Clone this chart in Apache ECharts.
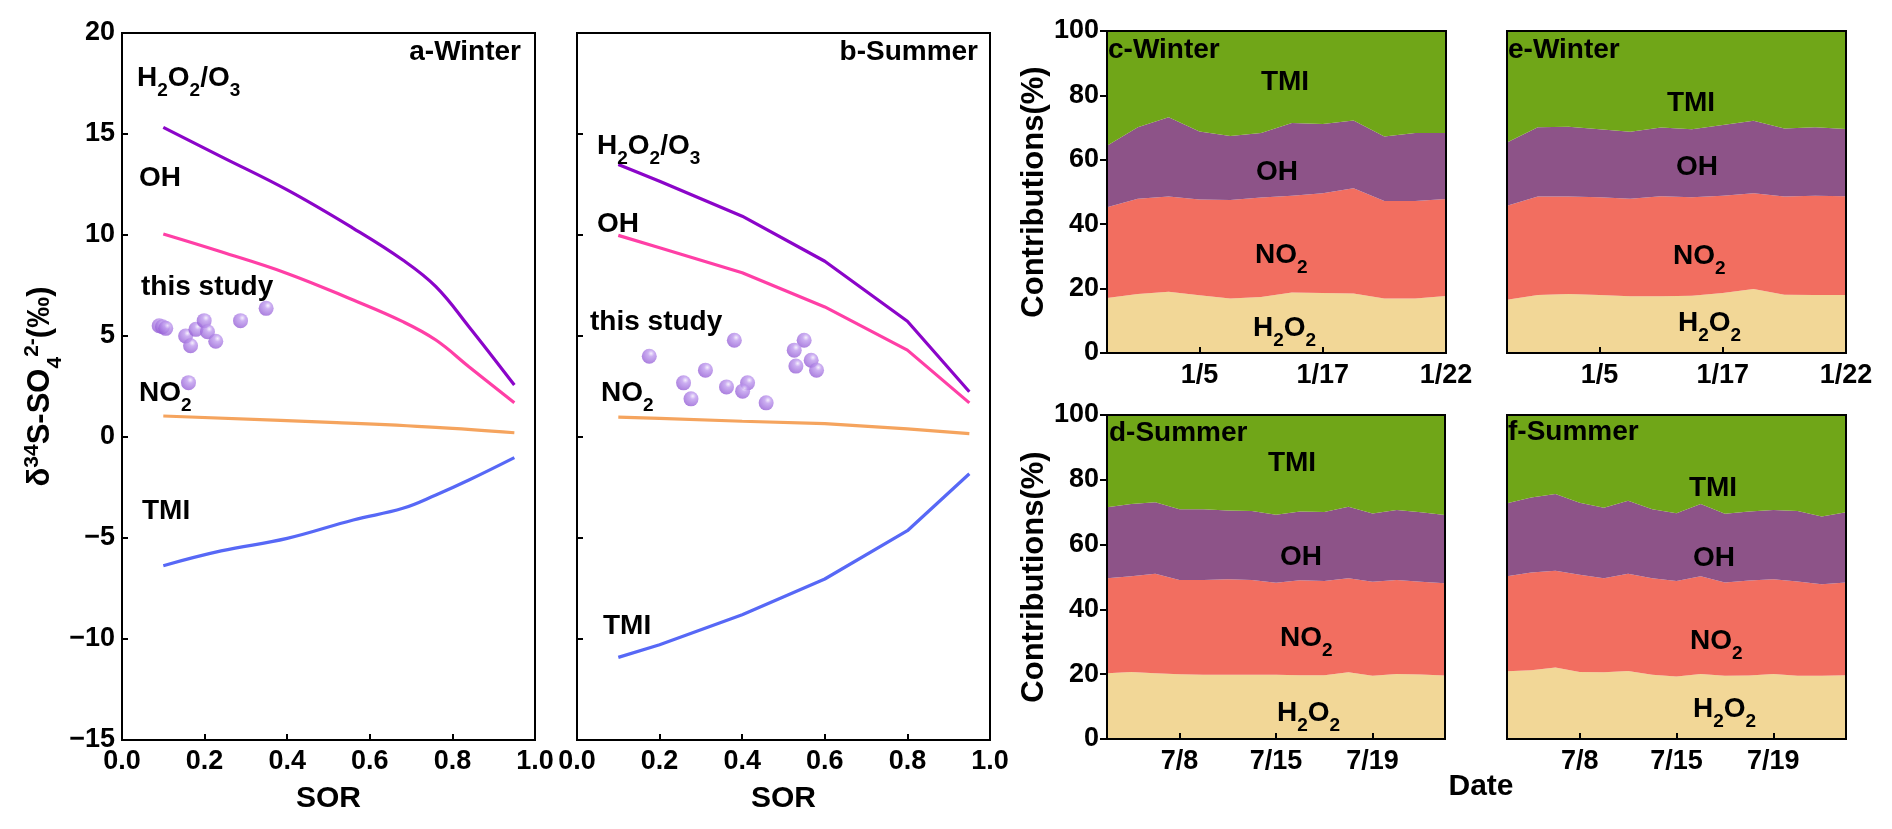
<!DOCTYPE html>
<html>
<head>
<meta charset="utf-8">
<script src="https://cdn.jsdelivr.net/npm/echarts@6/dist/echarts.min.js"></script>
<style>html,body{margin:0;padding:0;background:#fff}#c{width:1892px;height:829px}</style>
</head>
<body>
<div id="c"></div>
<script>
// ---------- Panel a (Winter) model lines, SOR vs delta34S ----------
const sorA = [0.1, 0.24, 0.4, 0.56, 0.68, 0.76, 0.84, 0.95];
const aH2O2O3 = [15.33, 13.88, 12.23, 10.33, 8.76, 7.44, 5.46, 2.57];
const aOH = [10.05, 9.17, 8.10, 6.78, 5.71, 4.80, 3.48, 1.70];
const aTMI = [-6.37, -5.64, -5.02, -4.11, -3.53, -2.87, -2.13, -1.02];
const sorA_NO2 = [0.1, 0.52, 0.76, 0.95];
const aNO2 = [1.04, 0.71, 0.48, 0.21];
const aStudySOR = [0.090, 0.098, 0.106, 0.154, 0.166, 0.179, 0.199, 0.207, 0.227, 0.287, 0.349, 0.161];
const aStudyD34S = [5.51, 5.46, 5.38, 5.00, 4.52, 5.33, 5.76, 5.21, 4.74, 5.76, 6.37, 2.69];

// ---------- Panel b (Summer) ----------
const sorB = [0.1, 0.2, 0.4, 0.6, 0.8, 0.95];
const bH2O2O3 = [13.49, 12.66, 10.93, 8.70, 5.73, 2.24];
const bOH = [9.98, 9.37, 8.13, 6.44, 4.30, 1.69];
const bNO2 = [0.98, 0.92, 0.78, 0.66, 0.40, 0.17];
const bTMI = [-10.91, -10.28, -8.80, -7.03, -4.64, -1.82];
const bStudySOR = [0.175, 0.381, 0.311, 0.258, 0.276, 0.362, 0.413, 0.401, 0.458, 0.550, 0.526, 0.567, 0.530, 0.580];
const bStudyD34S = [4.00, 4.79, 3.31, 2.68, 1.89, 2.48, 2.68, 2.27, 1.69, 4.79, 4.30, 3.80, 3.51, 3.31];

// ---------- Contributions (%) ----------
const winterTickIdx = [3, 7, 11];
const winterTickText = ['1/5', '1/17', '1/22'];
const summerTickIdx = [3, 7, 11];
const summerTickText = ['7/8', '7/15', '7/19'];

const cH2O2 = [17.1, 18.3, 19.0, 17.9, 16.9, 17.4, 18.8, 18.6, 18.5, 16.9, 16.9, 17.7];
const cNO2  = [28.2, 29.6, 29.6, 29.8, 30.6, 30.9, 30.0, 31.0, 32.7, 30.3, 30.3, 30.1];
const cOH   = [19.1, 22.2, 24.6, 21.1, 19.9, 20.0, 22.6, 21.5, 21.0, 20.0, 21.1, 20.5];
const cTMI  = [35.6, 29.9, 26.8, 31.2, 32.6, 31.7, 28.6, 28.9, 27.8, 32.8, 31.7, 31.7];

const eH2O2 = [16.5, 18.0, 18.3, 18.0, 17.6, 17.6, 17.8, 18.6, 19.9, 18.1, 18.0, 18.0];
const eNO2  = [29.2, 30.6, 30.3, 30.4, 30.3, 31.1, 30.6, 30.2, 29.7, 30.5, 30.8, 30.7];
const eOH   = [19.7, 21.5, 21.7, 21.1, 20.8, 21.3, 21.1, 22.0, 22.5, 21.1, 21.3, 20.9];
const eTMI  = [34.6, 29.9, 29.7, 30.5, 31.3, 30.0, 30.5, 29.2, 27.9, 30.3, 29.9, 30.4];

const dH2O2 = [20.3, 20.7, 20.3, 20.0, 19.8, 19.8, 19.8, 19.8, 19.7, 19.7, 20.6, 19.5, 20.1, 19.9, 19.6];
const dNO2  = [29.3, 29.5, 30.7, 29.1, 29.3, 29.5, 29.3, 28.4, 29.3, 29.1, 29.0, 29.0, 29.0, 28.6, 28.5];
const dOH   = [21.9, 22.3, 22.1, 21.8, 21.8, 21.2, 21.3, 21.0, 21.2, 21.3, 22.1, 21.1, 21.6, 21.5, 21.0];
const dTMI  = [28.5, 27.5, 26.9, 29.1, 29.1, 29.5, 29.6, 30.8, 29.8, 29.9, 28.3, 30.4, 29.3, 30.0, 30.9];

const fH2O2 = [20.9, 21.2, 22.1, 20.7, 20.6, 21.0, 19.8, 19.3, 20.1, 19.5, 19.6, 20.1, 19.5, 19.5, 19.7];
const fNO2  = [29.3, 30.2, 29.8, 30.0, 29.0, 30.0, 29.8, 29.5, 30.1, 28.8, 29.3, 29.2, 29.1, 28.3, 28.6];
const fOH   = [22.6, 23.1, 23.7, 22.2, 21.8, 22.5, 21.3, 20.9, 22.3, 21.2, 21.3, 21.4, 21.8, 20.9, 21.7];
const fTMI  = [27.2, 25.5, 24.4, 27.1, 28.6, 26.5, 29.1, 30.3, 27.5, 30.5, 29.8, 29.3, 29.6, 31.3, 30.0];

// ---------- styling ----------
const FONT = 'Liberation Sans';
const COL = {h2o2o3: '#8B05C9', oh: '#FF3FA6', no2: '#F5A45E', tmi: '#5768F6',
  aH2O2: '#F2D797', aNO2: '#F26E60', aOH: '#8D5388', aTMI: '#70A618'};

const zip = (xs, ys) => xs.map((x, i) => [x, ys[i]]);

const chart = echarts.init(document.getElementById('c'), null, {renderer: 'canvas'});

const grids = [
  {left: 122, top: 33, width: 413, height: 707},   // a
  {left: 577, top: 33, width: 413, height: 707},   // b
  {left: 1107, top: 31, width: 339, height: 322},  // c
  {left: 1507, top: 31, width: 339, height: 322},  // e
  {left: 1107, top: 415, width: 338, height: 324}, // d
  {left: 1507, top: 415, width: 339, height: 324}  // f
].map(g => Object.assign({show: true, borderColor: '#000', borderWidth: 2, backgroundColor: 'transparent', z: 10, containLabel: false}, g));

const axLabel = (size) => ({fontFamily: FONT, fontWeight: 'bold', fontSize: size, color: '#000'});

const deltaRich = {
  m: {fontFamily: FONT, fontWeight: 'bold', fontSize: 31, lineHeight: 40, padding: [6, 0, 0, 0], verticalAlign: 'top', color: '#000'},
  p: {fontFamily: FONT, fontWeight: 'bold', fontSize: 21, lineHeight: 21, padding: [2, 0, 0, 0], verticalAlign: 'top', color: '#000'},
  b: {fontFamily: FONT, fontWeight: 'bold', fontSize: 21, lineHeight: 21, padding: [25, 0, 0, 0], verticalAlign: 'top', color: '#000'}
};

function sorXAxis(gi) {
  return {type: 'value', gridIndex: gi, min: 0, max: 1, interval: 0.2, z: 10,
    name: 'SOR', nameLocation: 'middle', nameGap: 44,
    nameTextStyle: {fontFamily: FONT, fontWeight: 'bold', fontSize: 30, color: '#000'},
    axisLine: {show: false, onZero: false}, splitLine: {show: false},
    axisTick: {show: true, inside: true, length: 6, lineStyle: {color: '#000', width: 2}},
    axisLabel: Object.assign(axLabel(27), {margin: 8, formatter: v => v.toFixed(1)})};
}
function deltaYAxis(gi, showLabels) {
  const ax = {type: 'value', gridIndex: gi, min: -15, max: 20, interval: 5, z: 10,
    axisLine: {show: false, onZero: false}, splitLine: {show: false},
    axisTick: {show: true, inside: true, length: 6, lineStyle: {color: '#000', width: 2}},
    axisLabel: Object.assign(axLabel(27), {show: showLabels, margin: 7, formatter: v => v < 0 ? '\u2212' + Math.abs(v) : String(v)})};
  if (showLabels) {
    ax.name = '{m|\u03b4}{p|34}{m|S-SO}{b|4}{p|2-}{m|(\u2030)}';
    ax.nameLocation = 'middle';
    ax.nameGap = 60;
    ax.nameRotate = 90;
    ax.nameTextStyle = {rich: deltaRich, fontFamily: FONT, fontWeight: 'bold', fontSize: 31, color: '#000'};
  }
  return ax;
}
function dateXAxis(gi, n, tickIdx, tickText) {
  return {type: 'category', gridIndex: gi, boundaryGap: false, z: 10,
    data: Array.from({length: n}, (_, i) => String(i)),
    axisLine: {show: false, onZero: false}, splitLine: {show: false},
    axisTick: {show: true, inside: true, length: 6, interval: (i) => tickIdx.includes(i), lineStyle: {color: '#000', width: 2}},
    axisLabel: Object.assign(axLabel(27), {margin: 9, interval: (i) => tickIdx.includes(i),
      formatter: (v) => { const k = tickIdx.indexOf(Number(v)); return k >= 0 ? tickText[k] : ''; }})};
}
function pctYAxis(gi, showLabels) {
  const ax = {type: 'value', gridIndex: gi, min: 0, max: 100, interval: 20, z: 10,
    axisLine: {show: false, onZero: false}, splitLine: {show: false},
    axisTick: {show: showLabels, inside: false, length: 7, lineStyle: {color: '#000', width: 2}},
    axisLabel: Object.assign(axLabel(27), {show: showLabels, margin: 8})};
  if (showLabels) {
    ax.name = 'Contributions(%)';
    ax.nameLocation = 'middle';
    ax.nameGap = 50;
    ax.nameTextStyle = {fontFamily: FONT, fontWeight: 'bold', fontSize: 31, color: '#000'};
  }
  return ax;
}

const xAxes = [sorXAxis(0), sorXAxis(1),
  dateXAxis(2, cH2O2.length, winterTickIdx, winterTickText),
  dateXAxis(3, eH2O2.length, winterTickIdx, winterTickText),
  dateXAxis(4, dH2O2.length, summerTickIdx, summerTickText),
  dateXAxis(5, fH2O2.length, summerTickIdx, summerTickText)];
const yAxes = [deltaYAxis(0, true), deltaYAxis(1, false),
  pctYAxis(2, true), pctYAxis(3, false), pctYAxis(4, true), pctYAxis(5, false)];

function modelLine(gi, xs, ys, color, smooth) {
  return {type: 'line', xAxisIndex: gi, yAxisIndex: gi, data: zip(xs, ys), smooth: smooth,
    symbol: 'none', lineStyle: {color: color, width: 3.2}, z: 3, silent: true};
}
const ballColor = {type: 'radial', x: 0.62, y: 0.32, r: 0.7, colorStops: [
  {offset: 0, color: '#f3ebfc'}, {offset: 0.3, color: '#bf9bee'}, {offset: 1, color: '#9660d6'}]};
function studyScatter(gi, xs, ys) {
  return {type: 'scatter', xAxisIndex: gi, yAxisIndex: gi, data: zip(xs, ys), symbol: 'circle', symbolSize: 15,
    itemStyle: {color: ballColor}, z: 4, silent: true};
}
function areaSet(gi, stackName, h, n, o, t) {
  const mk = (vals, color) => ({type: 'line', xAxisIndex: gi, yAxisIndex: gi, stack: stackName, data: vals,
    symbol: 'none', lineStyle: {width: 0}, areaStyle: {color: color, opacity: 1}, silent: true, z: 2});
  return [mk(h, COL.aH2O2), mk(n, COL.aNO2), mk(o, COL.aOH), mk(t, COL.aTMI)];
}

const series = [
  modelLine(0, sorA, aH2O2O3, COL.h2o2o3, 0.4),
  modelLine(0, sorA, aOH, COL.oh, 0.4),
  modelLine(0, sorA_NO2, aNO2, COL.no2, 0.4),
  modelLine(0, sorA, aTMI, COL.tmi, 0.4),
  studyScatter(0, aStudySOR, aStudyD34S),
  modelLine(1, sorB, bH2O2O3, COL.h2o2o3, false),
  modelLine(1, sorB, bOH, COL.oh, false),
  modelLine(1, sorB, bNO2, COL.no2, false),
  modelLine(1, sorB, bTMI, COL.tmi, false),
  studyScatter(1, bStudySOR, bStudyD34S),
  ...areaSet(2, 'c', cH2O2, cNO2, cOH, cTMI),
  ...areaSet(3, 'e', eH2O2, eNO2, eOH, eTMI),
  ...areaSet(4, 'd', dH2O2, dNO2, dOH, dTMI),
  ...areaSet(5, 'f', fH2O2, fNO2, fOH, fTMI)
];

// ---------- annotation text ----------
const subRich = (size) => ({
  m: {fill: '#000', fontFamily: FONT, fontWeight: 'bold', fontSize: size, lineHeight: size + 4, verticalAlign: 'top'},
  s: {fill: '#000', fontFamily: FONT, fontWeight: 'bold', fontSize: Math.round(size * 0.68), lineHeight: Math.round(size * 0.68), padding: [Math.round(size * 0.6), 0, 0, 0], verticalAlign: 'top'}
});
function label(x, y, text, opt) {
  opt = opt || {};
  const size = opt.size || 28;
  const rich = opt.rich;
  return {type: 'text', x: x, y: y, z: 100, silent: true,
    style: {text: text, fill: '#000', fontFamily: FONT, fontWeight: 'bold', fontSize: size,
      align: opt.align || 'left', verticalAlign: 'middle', rich: rich ? subRich(size) : undefined}};
}
const H2O2O3 = '{m|H}{s|2}{m|O}{s|2}{m|/O}{s|3}';
const NO2 = '{m|NO}{s|2}';
const H2O2 = '{m|H}{s|2}{m|O}{s|2}';

const graphics = [
  // panel a
  label(521, 52, 'a-Winter', {align: 'right'}),
  label(137, 80, H2O2O3, {rich: true}),
  label(139, 178, 'OH'),
  label(141, 287, 'this study'),
  label(139, 395, NO2, {rich: true}),
  label(142, 511, 'TMI'),
  // panel b
  label(978, 52, 'b-Summer', {align: 'right'}),
  label(597, 148, H2O2O3, {rich: true}),
  label(597, 224, 'OH'),
  label(590, 322, 'this study'),
  label(601, 395, NO2, {rich: true}),
  label(603, 626, 'TMI'),
  // panel c
  label(1108, 50, 'c-Winter'),
  label(1285, 82, 'TMI', {align: 'center'}),
  label(1277, 172, 'OH', {align: 'center'}),
  label(1255, 257, NO2, {rich: true}),
  label(1253, 330, H2O2, {rich: true}),
  // panel e
  label(1508, 50, 'e-Winter'),
  label(1691, 103, 'TMI', {align: 'center'}),
  label(1697, 167, 'OH', {align: 'center'}),
  label(1673, 258, NO2, {rich: true}),
  label(1678, 325, H2O2, {rich: true}),
  // panel d
  label(1109, 433, 'd-Summer'),
  label(1292, 463, 'TMI', {align: 'center'}),
  label(1301, 557, 'OH', {align: 'center'}),
  label(1280, 640, NO2, {rich: true}),
  label(1277, 715, H2O2, {rich: true}),
  // panel f
  label(1508, 432, 'f-Summer'),
  label(1713, 488, 'TMI', {align: 'center'}),
  label(1714, 558, 'OH', {align: 'center'}),
  label(1690, 643, NO2, {rich: true}),
  label(1693, 711, H2O2, {rich: true}),
  // shared x-axis title for the date panels
  label(1481, 787, 'Date', {align: 'center', size: 30})
];

chart.setOption({
  animation: false,
  backgroundColor: '#fff',
  grid: grids,
  xAxis: xAxes,
  yAxis: yAxes,
  series: series,
  graphic: graphics
});
</script>
</body>
</html>
